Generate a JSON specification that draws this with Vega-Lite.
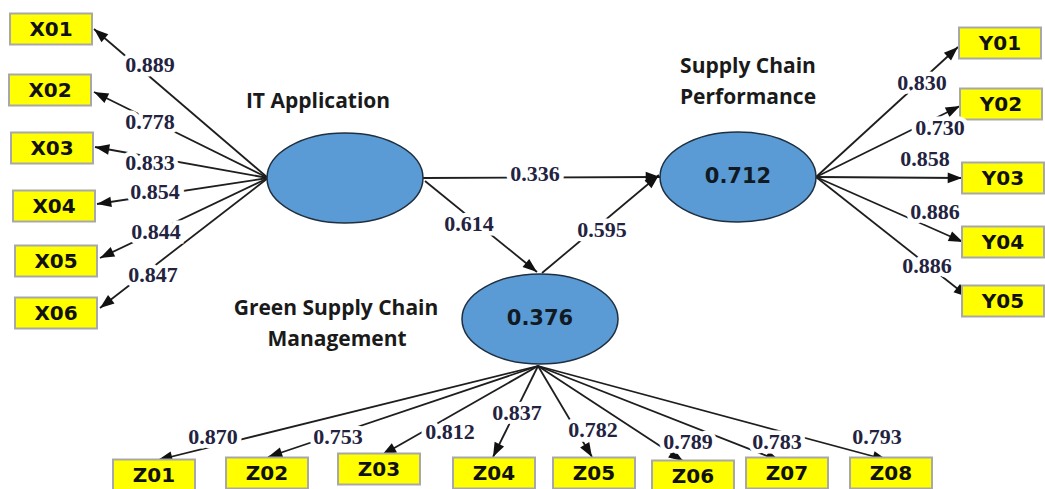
{
  "$schema": "https://vega.github.io/schema/vega-lite/v6.json",
  "width": 1045,
  "height": 489,
  "autosize": "none",
  "padding": 0,
  "background": "white",
  "config": {"view": {"stroke": null}},
  "datasets": {
    "edges": [
      {"x": 268, "y": 178, "x2": 94, "y2": 29, "label": "0.889", "lx": 150, "ly": 65},
      {"x": 268, "y": 178, "x2": 94, "y2": 92, "label": "0.778", "lx": 150, "ly": 122},
      {"x": 268, "y": 178, "x2": 95, "y2": 147, "label": "0.833", "lx": 150, "ly": 163},
      {"x": 268, "y": 178, "x2": 97, "y2": 204, "label": "0.854", "lx": 155, "ly": 192},
      {"x": 268, "y": 178, "x2": 100, "y2": 258, "label": "0.844", "lx": 156, "ly": 232},
      {"x": 268, "y": 178, "x2": 100, "y2": 308, "label": "0.847", "lx": 153, "ly": 275},
      {"x": 816, "y": 177, "x2": 958, "y2": 47, "label": "0.830", "lx": 922, "ly": 83},
      {"x": 816, "y": 177, "x2": 960, "y2": 106, "label": "0.730", "lx": 940, "ly": 128},
      {"x": 816, "y": 177, "x2": 962, "y2": 178, "label": "0.858", "lx": 925, "ly": 159},
      {"x": 816, "y": 177, "x2": 963, "y2": 242, "label": "0.886", "lx": 935, "ly": 212},
      {"x": 816, "y": 177, "x2": 968, "y2": 297, "label": "0.886", "lx": 927, "ly": 266},
      {"x": 423, "y": 178, "x2": 660, "y2": 177, "label": "0.336", "lx": 535, "ly": 174},
      {"x": 425, "y": 181, "x2": 537, "y2": 272, "label": "0.614", "lx": 469, "ly": 224},
      {"x": 542, "y": 273, "x2": 659, "y2": 175, "label": "0.595", "lx": 602, "ly": 230},
      {"x": 538, "y": 366, "x2": 158, "y2": 460, "label": "0.870", "lx": 213, "ly": 437},
      {"x": 538, "y": 366, "x2": 268, "y2": 457, "label": "0.753", "lx": 338, "ly": 437},
      {"x": 538, "y": 366, "x2": 382, "y2": 455, "label": "0.812", "lx": 450, "ly": 432},
      {"x": 538, "y": 366, "x2": 493, "y2": 457, "label": "0.837", "lx": 517, "ly": 413},
      {"x": 538, "y": 366, "x2": 592, "y2": 457, "label": "0.782", "lx": 593, "ly": 430},
      {"x": 538, "y": 366, "x2": 683, "y2": 461, "label": "0.789", "lx": 688, "ly": 442},
      {"x": 538, "y": 366, "x2": 780, "y2": 461, "label": "0.783", "lx": 777, "ly": 442},
      {"x": 538, "y": 366, "x2": 887, "y2": 460, "label": "0.793", "lx": 877, "ly": 437}
    ],
    "latent": [
      {"id": "IT", "x": 345, "y": 178, "value": ""},
      {"id": "SCP", "x": 738, "y": 177, "value": "0.712"},
      {"id": "GSCM", "x": 540, "y": 319, "value": "0.376"}
    ],
    "boxes": [
      {"id": "X01", "x": 51, "y": 29},
      {"id": "X02", "x": 50, "y": 90},
      {"id": "X03", "x": 52, "y": 148},
      {"id": "X04", "x": 54, "y": 206},
      {"id": "X05", "x": 56, "y": 261},
      {"id": "X06", "x": 56, "y": 313},
      {"id": "Y01", "x": 1000, "y": 43},
      {"id": "Y02", "x": 1001, "y": 104},
      {"id": "Y03", "x": 1003, "y": 178},
      {"id": "Y04", "x": 1003, "y": 242},
      {"id": "Y05", "x": 1003, "y": 301},
      {"id": "Z01", "x": 154, "y": 475},
      {"id": "Z02", "x": 267, "y": 473},
      {"id": "Z03", "x": 379, "y": 469},
      {"id": "Z04", "x": 494, "y": 473},
      {"id": "Z05", "x": 594, "y": 473},
      {"id": "Z06", "x": 693, "y": 476},
      {"id": "Z07", "x": 787, "y": 473},
      {"id": "Z08", "x": 891, "y": 473}
    ],
    "titles": [
      {"text": "IT Application", "x": 318, "y": 102},
      {"text": "Supply Chain", "x": 748, "y": 67},
      {"text": "Performance", "x": 748, "y": 98},
      {"text": "Green Supply Chain", "x": 336, "y": 309},
      {"text": "Management", "x": 337, "y": 340}
    ]
  },
  "encoding": {
    "x": {"field": "x", "type": "quantitative", "scale": {"domain": [0, 1045], "nice": false, "zero": false}, "axis": null},
    "y": {"field": "y", "type": "quantitative", "scale": {"domain": [0, 489], "nice": false, "zero": false, "reverse": true}, "axis": null}
  },
  "layer": [
    {
      "data": {"name": "edges"},
      "mark": {"type": "rule", "color": "#1e1e1e", "strokeWidth": 1.8},
      "encoding": {
        "x2": {"field": "x2"},
        "y2": {"field": "y2"}
      }
    },
    {
      "data": {"name": "edges"},
      "transform": [
        {"calculate": "atan2(datum.x2 - datum.x, datum.y - datum.y2) * 180 / PI", "as": "angle"}
      ],
      "mark": {"type": "point", "shape": "M 0 0 L -0.48 1.3 L 0.48 1.3 Z", "filled": true, "color": "#111111", "opacity": 1, "size": 484},
      "encoding": {
        "x": {"field": "x2", "type": "quantitative"},
        "y": {"field": "y2", "type": "quantitative"},
        "angle": {"field": "angle", "type": "quantitative", "scale": null}
      }
    },
    {
      "data": {"name": "latent"},
      "mark": {"type": "point", "shape": "M -1 0 C -1 -0.319 -0.552 -0.577 0 -0.577 C 0.552 -0.577 1 -0.319 1 0 C 1 0.319 0.552 0.577 0 0.577 C -0.552 0.577 -1 0.319 -1 0 Z", "filled": true, "fill": "#5b9bd5", "stroke": "#1f2f3f", "strokeWidth": 1.5, "opacity": 1, "fillOpacity": 1, "size": 24336}
    },
    {
      "data": {"name": "latent"},
      "mark": {"type": "text", "font": "DejaVu Sans", "fontWeight": "bold", "fontSize": 21, "color": "#111a22", "baseline": "middle", "align": "center"},
      "encoding": {"text": {"field": "value"}}
    },
    {
      "data": {"name": "boxes"},
      "mark": {"type": "point", "shape": "M -1 -0.378 L 1 -0.378 L 1 0.378 L -1 0.378 Z", "filled": true, "fill": "#ffff00", "stroke": "#a8a8a8", "strokeWidth": 2, "opacity": 1, "fillOpacity": 1, "size": 6724}
    },
    {
      "data": {"name": "boxes"},
      "mark": {"type": "text", "font": "DejaVu Sans", "fontWeight": "bold", "fontSize": 20, "color": "#111111", "baseline": "middle", "align": "center", "dy": 1},
      "encoding": {"text": {"field": "id"}}
    },
    {
      "data": {"name": "edges"},
      "mark": {"type": "text", "font": "Liberation Serif", "fontWeight": "bold", "fontSize": 22, "stroke": "white", "strokeWidth": 9, "color": "white", "baseline": "middle", "align": "center"},
      "encoding": {
        "x": {"field": "lx", "type": "quantitative"},
        "y": {"field": "ly", "type": "quantitative"},
        "text": {"field": "label"}
      }
    },
    {
      "data": {"name": "edges"},
      "mark": {"type": "text", "font": "Liberation Serif", "fontWeight": "bold", "fontSize": 22, "color": "#23233f", "baseline": "middle", "align": "center"},
      "encoding": {
        "x": {"field": "lx", "type": "quantitative"},
        "y": {"field": "ly", "type": "quantitative"},
        "text": {"field": "label"}
      }
    },
    {
      "data": {"name": "titles"},
      "mark": {"type": "text", "font": "Open Sans", "fontWeight": "bold", "fontSize": 21, "color": "#1a1a1a", "baseline": "middle", "align": "center"},
      "encoding": {"text": {"field": "text"}}
    }
  ]
}
